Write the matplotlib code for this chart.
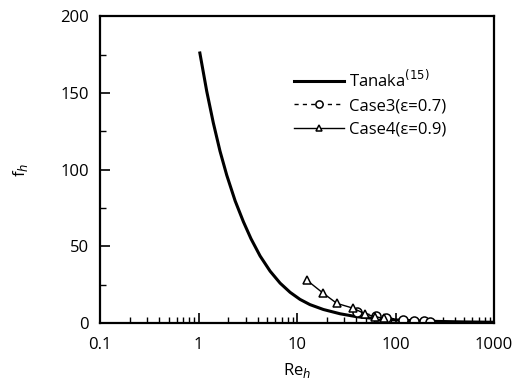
import numpy as np
import matplotlib
matplotlib.use("Agg")
import matplotlib.pyplot as plt

# Tanaka correlation (solid curve)
re_tanaka = [1.03, 1.21, 1.41, 1.65, 1.93, 2.35, 2.85, 3.4, 4.21, 5.32, 6.72, 8.49,
             10.7, 13.5, 18.5, 27.4, 40.4, 60, 100, 200, 500, 1000]
f_tanaka = [176, 151, 130.5, 112, 96.4, 79.6, 66, 55, 43.7, 33.8, 26.0, 20.0,
            15.4, 12.0, 8.8, 6.0, 4.1, 3.0, 2.0, 1.2, 0.7, 0.5]

# Case3 (eps=0.7), open circles
re_case3 = [41, 63, 80, 120, 152, 195, 224]
f_case3 = [7.4, 4.6, 3.4, 2.0, 1.5, 1.3, 0.6]

# Case4 (eps=0.9), open triangles
re_case4 = [12.5, 18.5, 25.3, 37.3, 49, 62, 76]
f_case4 = [28.0, 19.3, 12.8, 9.6, 5.9, 4.1, 3.1]

plt.rcParams['font.family'] = ['Open Sans', 'DejaVu Sans']

fig = plt.figure(figsize=(5.24, 3.85), dpi=100)
ax = fig.add_axes([0.191, 0.161, 0.752, 0.797])

ax.plot(re_tanaka, f_tanaka, color='k', lw=2.2, label='Tanaka$^{(15)}$')
ax.plot(re_case3, f_case3, color='k', lw=1.0, ls=(0, (3, 3)), marker='o', ms=6.5,
        mfc='white', mec='k', mew=1.1, label='Case3(ε=0.7)')
ax.plot(re_case4, f_case4, color='k', lw=1.0, marker='^', ms=6,
        mfc='white', mec='k', mew=1.1, label='Case4(ε=0.9)')

ax.set_xscale('log')
ax.set_xlim(0.1, 1000)
ax.set_ylim(0, 200)
ax.set_xticks([0.1, 1, 10, 100, 1000])
ax.set_xticklabels(['0.1', '1', '10', '100', '1000'])
ax.set_yticks([0, 50, 100, 150, 200])
ax.set_yticks([25, 75, 125, 175], minor=True)

ax.tick_params(which='both', direction='in', labelsize=12, top=False, right=False)
ax.tick_params(which='major', length=7, width=1.2)
ax.tick_params(which='minor', length=4, width=1.0)
ax.tick_params(axis='x', pad=10)
ax.tick_params(axis='y', pad=8)
for s in ax.spines.values():
    s.set_linewidth(1.6)

ax.set_xlabel('Re$_h$', fontsize=12, labelpad=6)
ax.set_ylabel('f$_h$', fontsize=12, labelpad=22)

ax.legend(loc='upper left', bbox_to_anchor=(0.455, 0.875), frameon=False,
          fontsize=12, handlelength=3.0, handletextpad=0.25, labelspacing=0.45,
          markerscale=0.8)

fig.savefig('out.png', dpi=100)
